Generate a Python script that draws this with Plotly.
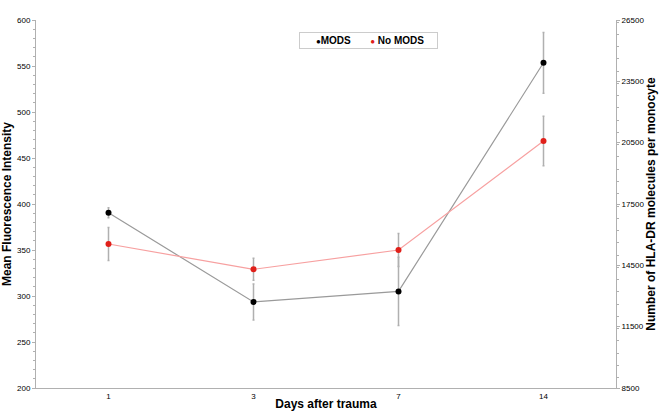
import plotly.graph_objects as go

days = ["1", "3", "7", "14"]
mods_mfi = [390.5, 293.5, 305, 553.5]
mods_err = [5.5, 19.5, 37, 33]
nomods_mfi = [356.5, 329, 350, 468.5]
nomods_err = [18, 12, 18, 27]

# right axis is a linear rescale of the left one (200 -> 8500, 600 -> 26500)
hla = [8500 + (v - 200) * 45 for v in mods_mfi]

axis_col = "#b0b0b0"
font = "Liberation Sans, Arial, sans-serif"

fig = go.Figure()
fig.add_trace(go.Scatter(
    x=days, y=mods_mfi, name="MODS", mode="lines+markers", showlegend=False,
    line=dict(color="#9a9a9a", width=1.2),
    marker=dict(color="black", size=6),
    error_y=dict(type="data", array=mods_err, color="#b0b0b0", thickness=1.5, width=1),
))
fig.add_trace(go.Scatter(
    x=days, y=nomods_mfi, name="No MODS", mode="lines+markers", showlegend=False,
    line=dict(color="#f7a0a0", width=1.2),
    marker=dict(color="#e0201a", size=6),
    error_y=dict(type="data", array=nomods_err, color="#b0b0b0", thickness=1.5, width=1),
))
fig.add_trace(go.Scatter(
    x=days, y=hla, yaxis="y2", mode="markers", showlegend=False,
    marker=dict(opacity=0), hoverinfo="skip",
))

# compact boxed legend like the original
sp = "&nbsp;"
fig.add_annotation(
    xref="paper", yref="paper", x=0.574, y=0.967, showarrow=False,
    text=sp * 5 + "<span style='color:black;font-size:8px'>●</span><b>MODS</b>" + sp * 7
         + "<span style='color:#e0201a;font-size:8px'>●</span> <b>No MODS</b>" + sp * 4,
    font=dict(size=10, family=font), bordercolor="#cccccc", borderwidth=1,
    borderpad=2, bgcolor="white",
)

fig.update_layout(
    width=661, height=418,
    margin=dict(l=36, r=45, t=20, b=30),
    plot_bgcolor="white", paper_bgcolor="white",
    font=dict(family=font, color="black"),
    showlegend=False,
    xaxis=dict(
        type="category", range=[-0.5, 3.5], showline=True, linecolor=axis_col,
        linewidth=1, showgrid=False, ticks="", tickfont=dict(size=8),
        automargin=False,
        title=dict(text="<b>Days after trauma</b>", font=dict(size=12), standoff=0),
    ),
    yaxis=dict(
        range=[200, 600], dtick=50, showline=True, linecolor=axis_col,
        linewidth=1, showgrid=False, zeroline=False, ticks="outside",
        ticklen=3, tickcolor=axis_col, tickfont=dict(size=8), automargin=False,
        minor=dict(dtick=10, ticks="outside", ticklen=2, tickcolor=axis_col),
        title=dict(text="<b>Mean Fluorescence Intensity</b>", font=dict(size=12), standoff=2),
    ),
    yaxis2=dict(
        overlaying="y", side="right", range=[8500, 26500], tick0=8500, dtick=3000,
        tickformat="d",
        showline=True, linecolor=axis_col, linewidth=1, showgrid=False,
        zeroline=False, ticks="outside", ticklen=3, tickcolor=axis_col,
        tickfont=dict(size=8), automargin=False,
        minor=dict(dtick=600, ticks="outside", ticklen=2, tickcolor=axis_col),
        title=dict(text="<b>Number of HLA-DR molecules per monocyte</b>", font=dict(size=12), standoff=2),
    ),
)

fig.write_html("out.html", config={"displayModeBar": False},
               post_script="document.body.style.margin='0';")
